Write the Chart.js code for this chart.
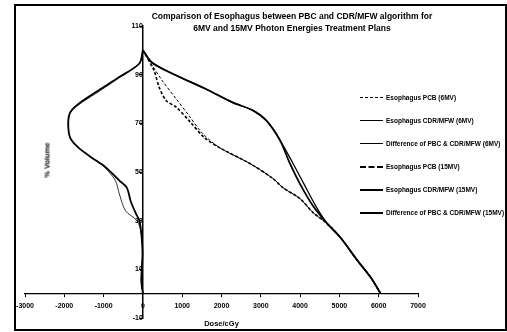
<!DOCTYPE html>
<html>
<head>
<meta charset="utf-8">
<script src="https://cdn.jsdelivr.net/npm/chart.js@4.4.1/dist/chart.umd.min.js"></script>
<style>
  body { margin: 0; background: #fff; font-family: "Liberation Sans", Arial, sans-serif; }
  #wrap { position: relative; width: 507px; height: 332px; }
  #frame { position: absolute; left: 14px; top: 4px; width: 489px; height: 323px; border: 2px solid #000; pointer-events: none; }
  #title { position: absolute; left: 137px; width: 310px; top: 10px; text-align: center; font-weight: bold; font-size: 8.5px; line-height: 12px; color: #000; }
  #ytitle { position: absolute; left: 47px; top: 160px; transform: translate(-50%, -50%) rotate(-90deg); font-weight: bold; font-size: 7.5px; white-space: nowrap; }
  #legend { position: absolute; left: 360px; top: 86px; font-weight: bold; font-size: 6.5px; color: #000; }
  #legend .row { display: flex; align-items: center; height: 23px; }
  #legend .sw { width: 23px; height: 0; margin-right: 3px; border-top: 1px solid #000; }
</style>
</head>
<body>
<div id="wrap">
  <canvas id="chart" width="507" height="332"></canvas>
  <div id="title">Comparison of Esophagus between PBC and CDR/MFW algorithm for<br>6MV and 15MV Photon Energies Treatment Plans</div>
  <div id="ytitle">% Volume</div>
  <div id="legend"></div>
  <div id="frame"></div>
</div>
<script>
const xTicks = [-3000, -2000, -1000, 0, 1000, 2000, 3000, 4000, 5000, 6000, 7000];
const yTicks = [-10, 10, 30, 50, 70, 90, 110];

const seriesNames = [
  'Esophagus PCB (6MV)',
  'Esophagus CDR/MFW (6MV)',
  'Difference of PBC & CDR/MFW (6MV)',
  'Esophagus PCB (15MV)',
  'Esophagus CDR/MFW (15MV)',
  'Difference of PBC & CDR/MFW (15MV)'
];

// dose (cGy) and % volume
const pbc6Dose = [0, 230, 490, 850, 1180, 1510, 1950, 2720, 3310, 3560, 4000, 4330, 4690, 5030, 5460, 5800, 6050];
const pbc6Vol  = [100, 94, 87.6, 80, 73, 66, 60, 53.5, 47.3, 43.6, 39, 33.3, 28.8, 23, 13.6, 6.6, 0];

const cdr6Dose = [0, 230, 740, 1615, 2280, 2800, 3150, 3490, 3820, 4100, 4400, 4690, 5030, 5460, 5800, 6050];
const cdr6Vol  = [100, 95, 90.5, 84, 78.6, 75.3, 71, 63, 53.5, 45, 36, 28.8, 23, 13.6, 6.6, 0];

const diff6Dose = [0, -90, -580, -1080, -1600, -1840, -1900, -1850, -1640, -1310, -980, -700, -600, -440, -150, -40, -10, -40, 0];
const diff6Vol  = [100, 94.6, 89, 83.5, 78, 74.5, 70, 64, 60, 56, 52, 46.5, 41, 34, 30, 24.7, 16.5, 5.3, 0];

const pbc15Dose = [0, 280, 410, 590, 850, 1180, 1560, 1950, 2720, 3310, 3560, 4000, 4330, 4690, 5030, 5460, 5800, 6050];
const pbc15Vol  = [100, 91.8, 85, 79.4, 76.6, 71, 64.2, 60, 53.5, 47.3, 43.6, 39, 33.3, 28.8, 23, 13.6, 6.6, 0];

const cdr15Dose = [0, 230, 740, 1615, 2280, 2800, 3150, 3490, 3740, 4000, 4330, 4690, 5030, 5460, 5800, 6050];
const cdr15Vol  = [100, 95, 90.5, 84, 78.6, 75.3, 71, 63, 53.5, 45, 36, 28.8, 23, 13.6, 6.6, 0];

const diff15Dose = [0, -90, -600, -1130, -1640, -1850, -1900, -1850, -1640, -1310, -950, -600, -410, -310, -180, -90, -40, -10, -40, 0];
const diff15Vol  = [100, 94.6, 89, 83.5, 78, 74.5, 70, 64, 60, 56, 52, 46.5, 43.6, 38, 33, 30, 24.7, 16.5, 5.3, 0];

const styles = [
  { width: 1, dash: [3, 2] },
  { width: 1.3, dash: [] },
  { width: 0.8, dash: [] },
  { width: 1.6, dash: [3, 2] },
  { width: 1.8, dash: [] },
  { width: 1.8, dash: [] }
];

const doses = [pbc6Dose, cdr6Dose, diff6Dose, pbc15Dose, cdr15Dose, diff15Dose];
const vols = [pbc6Vol, cdr6Vol, diff6Vol, pbc15Vol, cdr15Vol, diff15Vol];

function toPoints(xs, ys) {
  return xs.map((x, i) => ({ x, y: ys[i] }));
}

const tickFont = { family: 'Liberation Sans', size: 7, weight: 'bold' };

const datasets = seriesNames.map((name, i) => ({
  label: name,
  data: toPoints(doses[i], vols[i]),
  showLine: true,
  borderColor: '#000',
  backgroundColor: '#000',
  borderWidth: styles[i].width,
  borderDash: styles[i].dash,
  pointRadius: 0,
  tension: 0.3,
  fill: false
}));

new Chart(document.getElementById('chart'), {
  type: 'scatter',
  data: { datasets },
  options: {
    responsive: false,
    animation: false,
    // axes sit at x=0 / y=0, so they take no layout room: padding sets the plot box
    layout: { padding: { left: 25, top: 26, right: 89, bottom: 14 } },
    plugins: {
      legend: { display: false },
      tooltip: { enabled: false }
    },
    scales: {
      x: {
        type: 'linear',
        position: { y: 0 },
        min: -3000,
        max: 7000,
        afterBuildTicks: (s) => { s.ticks = xTicks.map((v) => ({ value: v })); },
        grid: { drawOnChartArea: false, tickLength: 3, color: '#000' },
        border: { color: '#000', width: 1.2 },
        ticks: { color: '#000', font: tickFont, padding: 5, maxRotation: 0, autoSkip: false, callback: (v) => String(v) },
        title: { display: true, text: 'Dose/cGy', color: '#000', font: { family: 'Liberation Sans', size: 7.5, weight: 'bold' }, padding: { top: 4, bottom: 0 } }
      },
      y: {
        type: 'linear',
        position: { x: 0 },
        min: -10,
        max: 110,
        afterBuildTicks: (s) => { s.ticks = yTicks.map((v) => ({ value: v })); },
        grid: { drawOnChartArea: false, tickLength: 3, color: '#000' },
        border: { color: '#000', width: 1.5 },
        ticks: { color: '#000', font: tickFont, padding: 2, autoSkip: false, callback: (v) => String(v) }
      }
    }
  }
});

// legend drawn as html, from the same names and styles
const legend = document.getElementById('legend');
seriesNames.forEach((name, i) => {
  const row = document.createElement('div');
  row.className = 'row';
  const sw = document.createElement('span');
  sw.className = 'sw';
  sw.style.borderTopWidth = Math.max(1, Math.round(styles[i].width)) + 'px';
  sw.style.borderTopStyle = styles[i].dash.length ? 'dashed' : 'solid';
  const txt = document.createElement('span');
  txt.textContent = name;
  row.appendChild(sw);
  row.appendChild(txt);
  legend.appendChild(row);
});
</script>
</body>
</html>
